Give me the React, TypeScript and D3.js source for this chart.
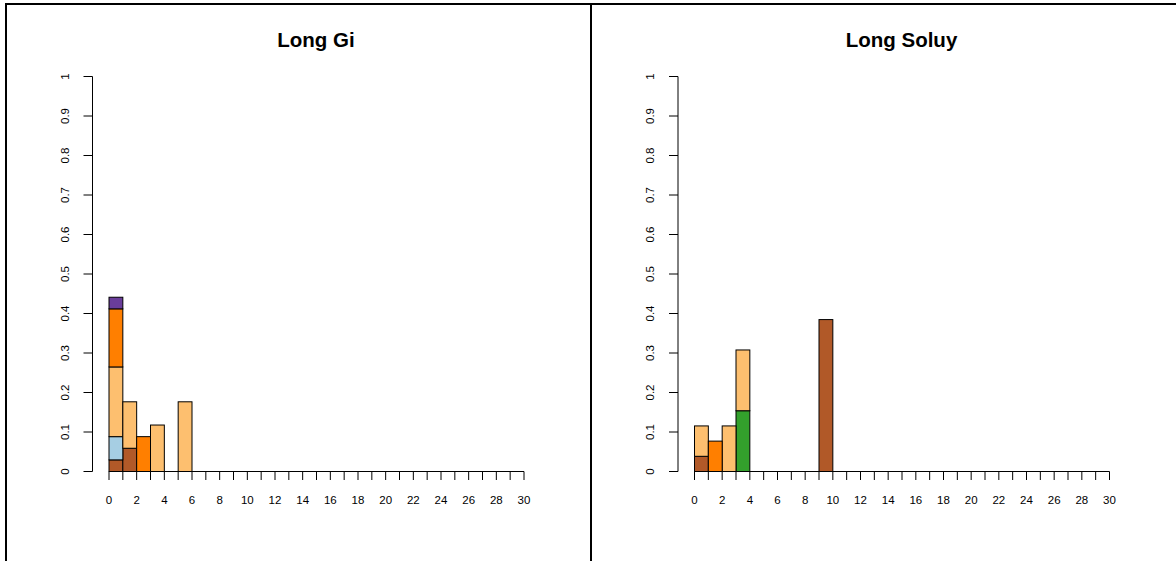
import React from "react";
import * as d3 from "d3";

// Histogram bins (left edge of each unit-wide bin) and stacked counts per colour group
const GI_TOTAL = 34;
const giBins = [0, 1, 2, 3, 5];
const giBrown = [1, 2, 0, 0, 0];
const giBlue = [2, 0, 0, 0, 0];
const giGreen = [0, 0, 0, 0, 0];
const giLightOrange = [6, 4, 0, 4, 6];
const giOrange = [5, 0, 3, 0, 0];
const giPurple = [1, 0, 0, 0, 0];

const SOLUY_TOTAL = 26;
const soluyBins = [0, 1, 2, 3, 9];
const soluyBrown = [1, 0, 0, 0, 10];
const soluyBlue = [0, 0, 0, 0, 0];
const soluyGreen = [0, 0, 0, 4, 0];
const soluyLightOrange = [2, 0, 3, 4, 0];
const soluyOrange = [0, 2, 0, 0, 0];
const soluyPurple = [0, 0, 0, 0, 0];

const groupKeys = ["brown", "blue", "green", "lightOrange", "orange", "purple"];
const groupColors = ["#B15928", "#A6CEE3", "#33A02C", "#FDBF6F", "#FF7F00", "#6A3D9A"];

const xTicks = d3.range(0, 31);
const xLabels = d3.range(0, 31, 2);
const yTicks = d3.range(0, 11).map((i) => i / 10);

const W = 1176;
const H = 561;
const PANEL_OFFSET = 585.5;

type PanelProps = {
  title: string;
  dx: number;
  bins: number[];
  series: number[][];
  total: number;
};

function Panel({ title, dx, bins, series, total }: PanelProps) {
  const x = d3.scaleLinear().domain([0, 30]).range([109 + dx, 524 + dx]);
  const y = d3.scaleLinear().domain([0, 1]).range([471.5, 76.5]);
  const axisX = 92.5 + dx;

  const rows = bins.map((b, i) => {
    const row: Record<string, number> = { bin: b };
    groupKeys.forEach((k, j) => {
      row[k] = series[j][i] / total;
    });
    return row;
  });
  const stacked = d3.stack<Record<string, number>>().keys(groupKeys)(rows);

  const font = "'Liberation Sans', Arial, Helvetica, sans-serif";

  return (
    <g>
      <text
        x={316 + dx}
        y={47}
        textAnchor="middle"
        fontFamily={font}
        fontWeight="bold"
        fontSize={20.5}
        fill="#000"
      >
        {title}
      </text>

      {/* y axis */}
      <line x1={axisX} x2={axisX} y1={y(1)} y2={y(0)} stroke="#000" strokeWidth={1} />
      {yTicks.map((t) => (
        <g key={t}>
          <line x1={axisX - 9} x2={axisX} y1={y(t)} y2={y(t)} stroke="#000" strokeWidth={1} />
          <text
            transform={`translate(${axisX - 24},${y(t)}) rotate(-90)`}
            textAnchor="middle"
            fontFamily={font}
            fontSize={11.5}
            fill="#000"
          >
            {String(t)}
          </text>
        </g>
      ))}

      {/* baseline of empty bins */}
      <line x1={x(0)} x2={x(30)} y1={y(0)} y2={y(0)} stroke="#000" strokeWidth={1} />

      {/* stacked bars */}
      {stacked.map((layer, li) =>
        layer.map((seg, i) => {
          const h = seg[1] - seg[0];
          if (h <= 0) return null;
          const b = bins[i];
          return (
            <rect
              key={`${li}-${i}`}
              x={x(b)}
              width={x(b + 1) - x(b)}
              y={y(seg[1])}
              height={y(seg[0]) - y(seg[1])}
              fill={groupColors[li]}
              stroke="#000"
              strokeWidth={1}
            />
          );
        })
      )}

      {/* x axis ticks */}
      {xTicks.map((t) => (
        <line key={t} x1={x(t)} x2={x(t)} y1={y(0)} y2={y(0) + 8.5} stroke="#000" strokeWidth={1} />
      ))}
      {xLabels.map((t) => (
        <text
          key={t}
          x={x(t)}
          y={503.5}
          textAnchor="middle"
          fontFamily={font}
          fontSize={11.5}
          fill="#000"
        >
          {String(t)}
        </text>
      ))}
    </g>
  );
}

export default function App() {
  return (
    <svg
      width={W}
      height={H}
      style={{ position: "absolute", left: 0, top: 0, background: "#fff" }}
    >
      <rect x={0} y={0} width={W} height={H} fill="#fff" />
      {/* frame */}
      <line x1={5} x2={W} y1={4} y2={4} stroke="#000" strokeWidth={2} />
      <line x1={6} x2={6} y1={3} y2={H} stroke="#000" strokeWidth={2} />
      <line x1={591} x2={591} y1={3} y2={H} stroke="#000" strokeWidth={2} />

      <Panel
        title="Long Gi"
        dx={0}
        bins={giBins}
        series={[giBrown, giBlue, giGreen, giLightOrange, giOrange, giPurple]}
        total={GI_TOTAL}
      />
      <Panel
        title="Long Soluy"
        dx={PANEL_OFFSET}
        bins={soluyBins}
        series={[soluyBrown, soluyBlue, soluyGreen, soluyLightOrange, soluyOrange, soluyPurple]}
        total={SOLUY_TOTAL}
      />
    </svg>
  );
}
